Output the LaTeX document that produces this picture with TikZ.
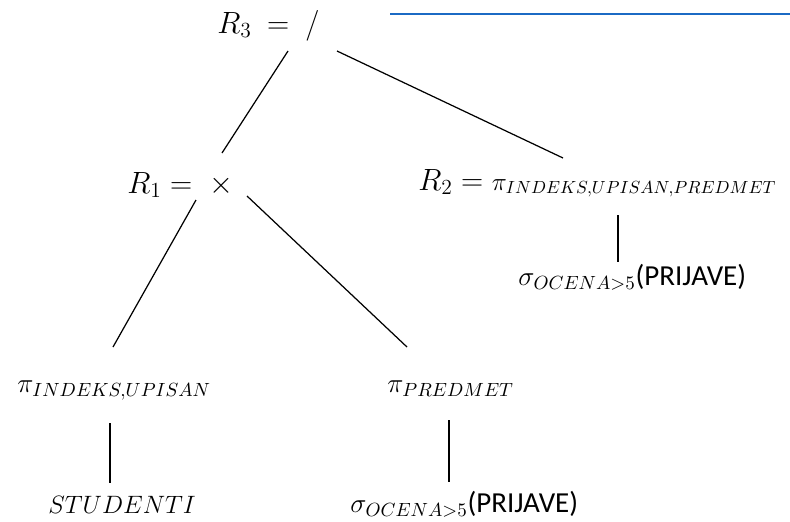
\documentclass[tikz,border=0pt]{standalone}
\usepackage{fix-cm}
\usepackage{amsmath}
\usepackage{fontspec}
\newfontfamily\calibrifont{Carlito}
\usetikzlibrary{calc}
\definecolor{lineblue}{HTML}{1B6AC4}
\newcommand{\rel}[1]{{\fontsize{16.5}{19}\calibrifont(#1)}}
\newcommand{\leafsize}{\fontsize{15.5}{19}\selectfont}

\begin{document}
\begin{tikzpicture}[x=0.02cm, y=-0.02cm,
  op/.style={inner sep=0pt, anchor=base west, font=\fontsize{17.5}{21}\selectfont},
  leaf/.style={inner sep=0pt, anchor=base west, font=\leafsize},
  edge/.style={line width=0.7pt}]
 \useasboundingbox (0,0) rectangle (790,521);
 \draw[lineblue, line width=1.7pt] (390,14) -- (790,14);
 % root: division
 \node[op] (r3) at (217,33) {$R_3 \:=$};
 \node[op] (div) at (305,33) {$/$};
 % level 1
 \node[op] (r1) at (127,193) {$R_1=$};
 \node[op, anchor=base] (cross) at (221,193) {$\times$};
 \node[op] (r2) at (418,190) {$R_2={}$\fontsize{14.4}{18}\selectfont$\pi_{INDEKS,UPISAN,PREDMET}$};
 \node[leaf] (sel2) at (518,285) {$\sigma_{OCENA>5}$\rel{PRIJAVE}};
 % level 2
 \node[leaf] (pil) at (17,392) {$\pi_{INDEKS,UPISAN}$};
 \node[leaf] (pir) at (387,392) {$\pi_{PREDMET}$};
 \node[leaf, font=\fontsize{14.3}{17}\selectfont] (stud) at (48,513) {$STUDENTI$};
 \node[leaf] (sel1) at (350,512) {$\sigma_{OCENA>5}$\rel{PRIJAVE}};
 % edges
 \draw[edge] ($(div.base west)+(-17,18)$) -- ($(cross.base)+(1,-40)$);
 \draw[edge] ($(div.base west)+(32,18)$) -- ($(r2.base west)+(145,-32)$);
 \draw[edge] ($(cross.base)+(-25,7)$) -- ($(pil.base west)+(96,-45)$);
 \draw[edge] ($(cross.base)+(26,3)$) -- ($(pir.base west)+(20,-45)$);
 \draw[edge] ($(r2.base west)+(200,25)$) -- ($(sel2.base west)+(100,-23)$);
 \draw[edge] ($(pil.base west)+(93,31)$) -- ($(stud.base west)+(62,-30)$);
 \draw[edge] ($(pir.base west)+(62,28)$) -- ($(sel1.base west)+(99,-30)$);
\end{tikzpicture}
\end{document}
